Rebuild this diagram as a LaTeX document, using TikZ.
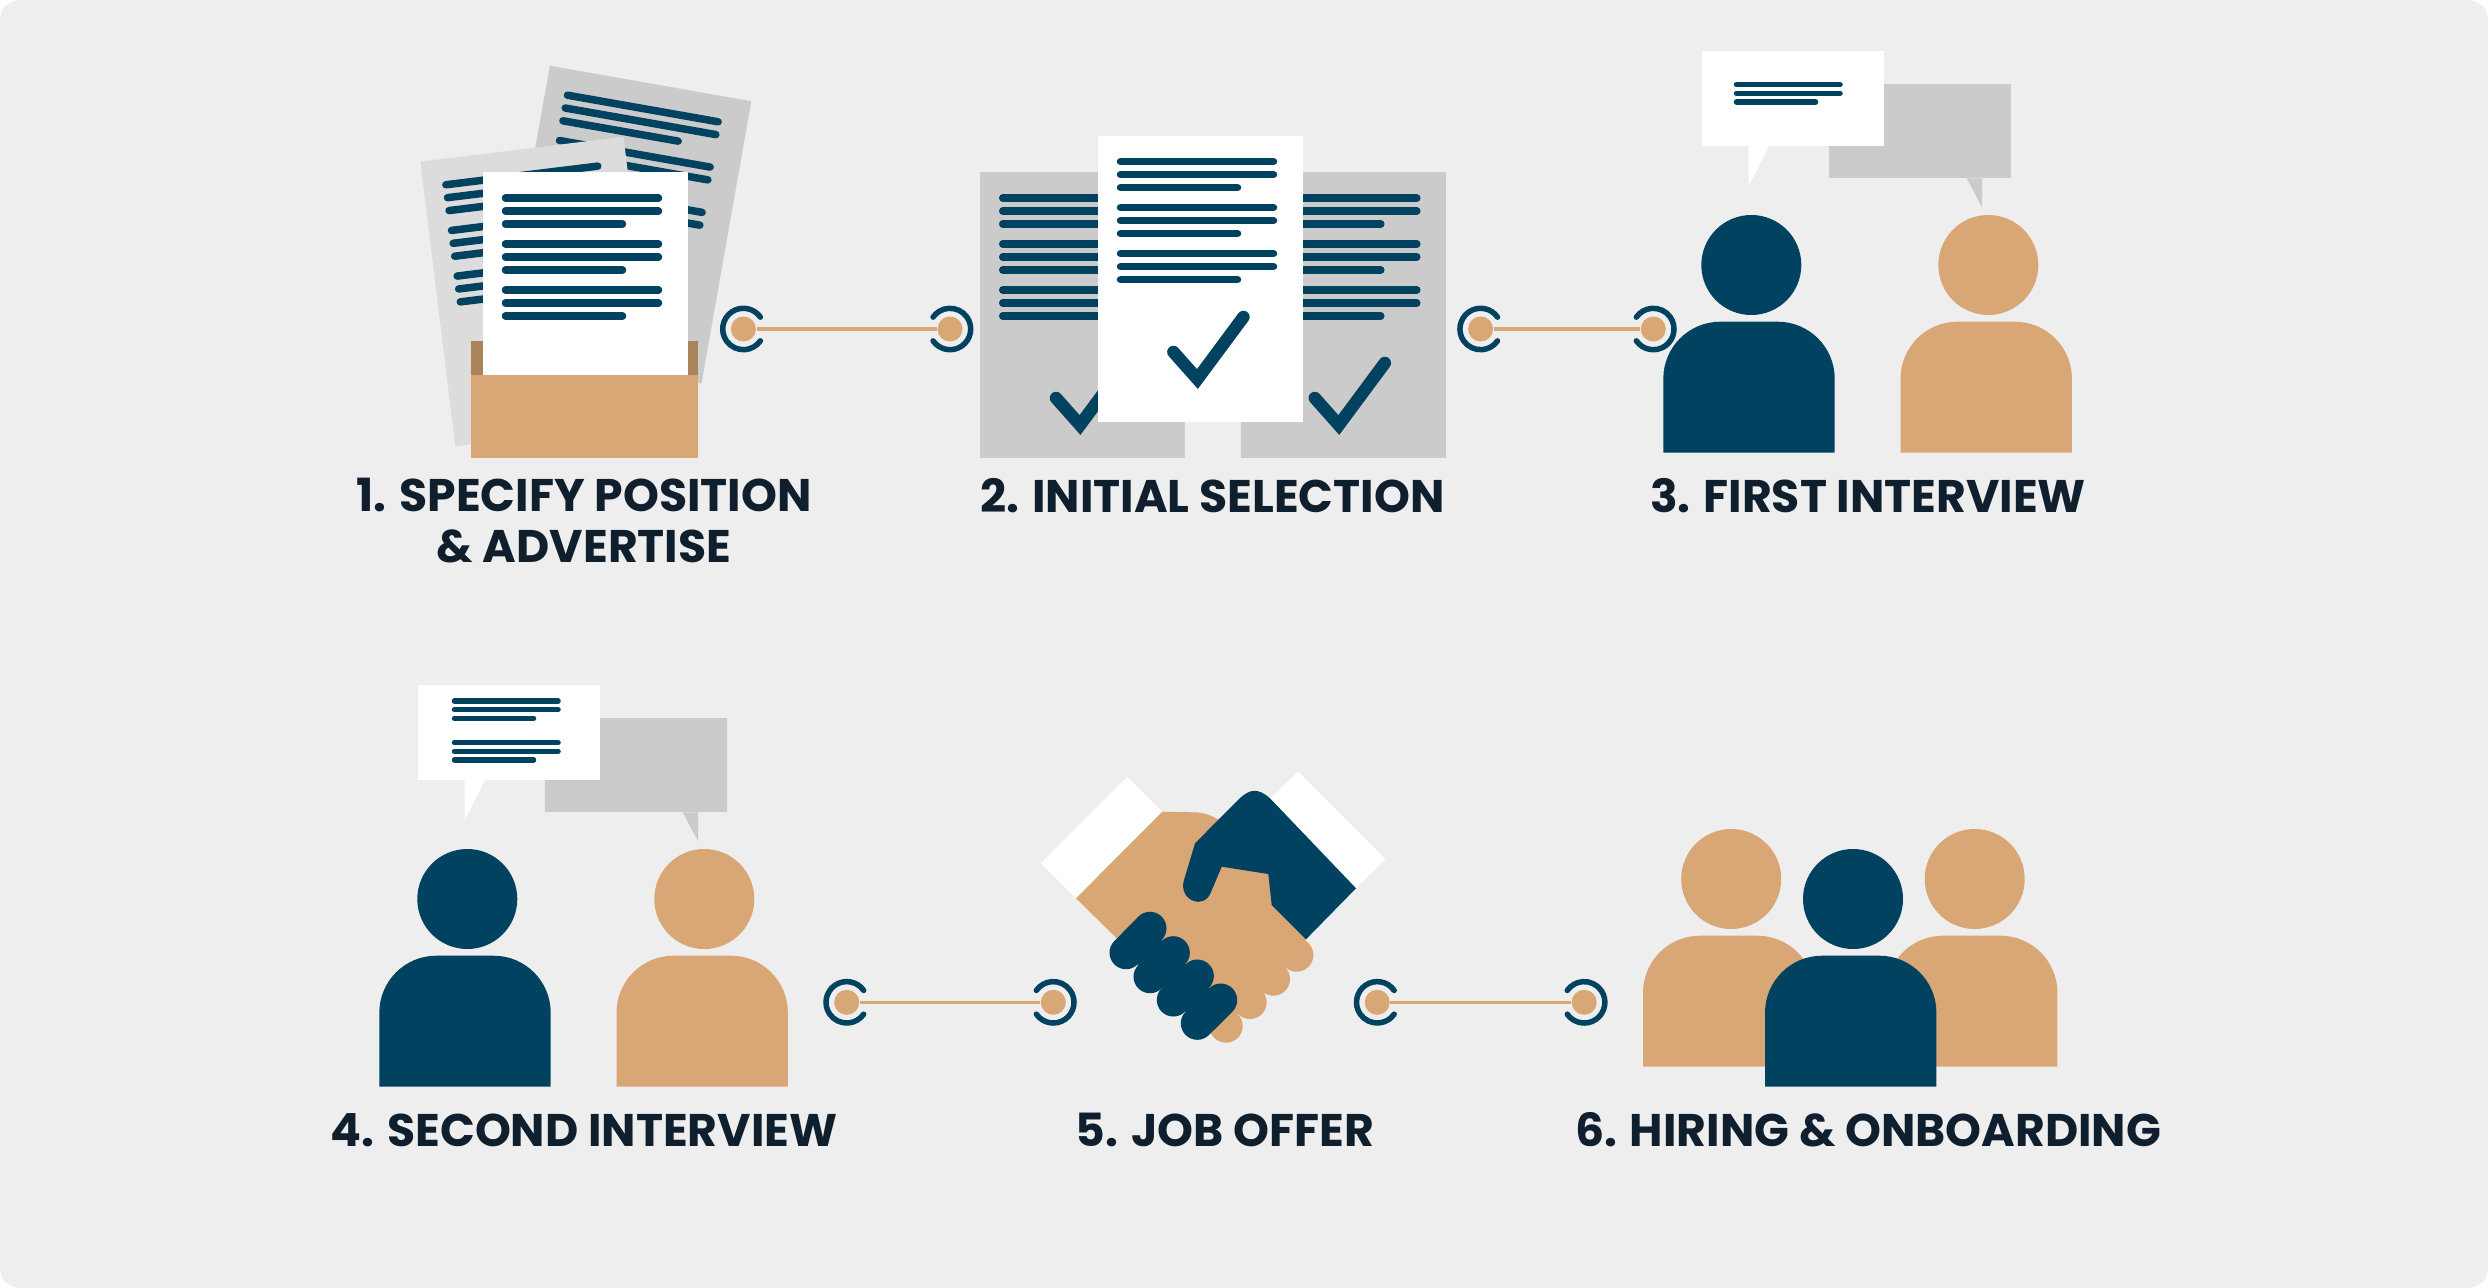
\documentclass[tikz,border=0pt]{standalone}
\usepackage{fontspec}
\setmainfont{Poppins}
\usepackage{tikz}
\usetikzlibrary{positioning}

\definecolor{pagebg}{HTML}{EEEEEE}
\definecolor{navy}{HTML}{00425F}
\definecolor{sand}{HTML}{D8A775}
\definecolor{sanddark}{HTML}{AB835A}
\definecolor{sheetgray}{HTML}{CBCBCB}
\definecolor{sheetlight}{HTML}{DCDCDC}
\definecolor{labelink}{HTML}{0F1F2E}

\tikzset{
    textline/.style={draw=navy, line width=0.075cm, line cap=round},
    smallline/.style={draw=navy, line width=0.055cm, line cap=round},
    checkline/.style={draw=navy, line width=0.125cm, line cap=round, miter limit=10},
    fingerline/.style={draw=navy, line width=0.33cm, line cap=round},
    ringline/.style={draw=navy, line width=0.055cm, line cap=round},
    linkline/.style={draw=sand, line width=0.035cm},
    dot/.style={circle, fill=sand, minimum size=0.25cm, inner sep=0pt},
    steplabel/.style={font=\fontsize{13}{14.5}\selectfont\bfseries, text=labelink, align=center, inner sep=0pt}
}

% nine lines of a sheet, #1 #2 is the top left corner of the sheet
\newcommand{\sheetlines}[2]{
    \begin{scope}[shift={(#1,#2)}]
        \draw [textline] (22.5,-26) -- (175.5,-26);
        \draw [textline] (22.5,-39) -- (175.5,-39);
        \draw [textline] (22.5,-52) -- (139.5,-52);
        \draw [textline] (22.5,-72) -- (175.5,-72);
        \draw [textline] (22.5,-85) -- (175.5,-85);
        \draw [textline] (22.5,-98) -- (139.5,-98);
        \draw [textline] (22.5,-118) -- (175.5,-118);
        \draw [textline] (22.5,-131) -- (175.5,-131);
        \draw [textline] (22.5,-144) -- (139.5,-144);
    \end{scope}
}
% head and body, #1 colour, #2 head x, #3 head y, #4 body left x
\newcommand{\person}[4]{
    \fill [#1] (#2,#3) circle (50);
    \fill [#1] (#4,#3-187.7) -- (#4,#3-113.7) arc (180:90:57) -- (#4+114.4,#3-56.7)
        arc (90:0:57) -- (#4+171.4,#3-187.7) -- cycle;
}
% ring open towards the link, #1 dot name, #2 start angle, #3 end angle
\newcommand{\linkring}[3]{
    \draw [ringline] (#1.center) ++(#2:20.7) arc (#2:#3:20.7);
}

\begin{document}
\begin{tikzpicture}[x=0.01cm, y=0.01cm]
    \useasboundingbox (0,0) rectangle (2488,-1288);
    \fill [white] (0,0) rectangle (2488,-1288);
    \fill [pagebg, rounded corners=0.2cm] (0,0) rectangle (2488,-1288);

    % step 1
    \begin{scope}[shift={(549.8,-65.7)}, rotate=-10]
        \fill [sheetgray] (0,0) rectangle (204.6,-286.6);
        \sheetlines{0}{0}
    \end{scope}
    \begin{scope}[shift={(420.4,-161.7)}, rotate=7]
        \fill [sheetlight] (0,0) rectangle (204.6,-286.6);
        \sheetlines{0}{0}
    \end{scope}
    \fill [sanddark] (471.4,-341) rectangle (698.4,-375);
    \fill [white] (483,-172) rectangle (687.6,-375);
    \sheetlines{483}{-172}
    \fill [sand] (471.4,-375) rectangle (698.4,-458.3);
    \node [dot] (linkAa) at (743.4,-329) {};
    \node [dot] (linkAb) at (950,-329) {};
    \draw [linkline] (linkAa) -- (linkAb);
    \linkring{linkAa}{35}{325}
    \linkring{linkAb}{-145}{145}
    \node [steplabel] (labelA) at (584,-521) {1. SPECIFY POSITION\\\& ADVERTISE};

    % step 2
    \fill [sheetgray] (980.2,-172) rectangle (1185.2,-458.3);
    \sheetlines{980.2}{-172}
    \draw [checkline] (1056,-398) -- (1080,-425) -- (1126,-363);
    \fill [sheetgray] (1241.3,-172) rectangle (1446.4,-458.3);
    \sheetlines{1241.3}{-172}
    \draw [checkline] (1314.8,-398) -- (1338.8,-425) -- (1384.8,-363);
    \fill [white] (1098,-135.7) rectangle (1302.6,-422.3);
    \sheetlines{1098}{-135.7}
    \draw [checkline] (1173.4,-352) -- (1197.4,-379) -- (1243.4,-317);
    \node [dot] (linkBa) at (1480.6,-329) {};
    \node [dot] (linkBb) at (1653.3,-329) {};
    \draw [linkline] (linkBa) -- (linkBb);
    \linkring{linkBa}{35}{325}
    \linkring{linkBb}{-145}{145}
    \node [steplabel] (labelB) at (1212.5,-496) {2. INITIAL SELECTION};

    % step 3
    \fill [sheetgray] (1828.7,-84) rectangle (2010.7,-178.3);
    \fill [sheetgray] (1966.7,-178.3) -- (1982,-178.3) -- (1982,-207.3) -- cycle;
    \fill [white] (1702,-51) rectangle (1884,-145.7);
    \fill [white] (1748.7,-145.7) -- (1769.3,-145.7) -- (1748.7,-186) -- cycle;
    \draw [smallline] (1736.5,-84.7) -- (1840,-84.7);
    \draw [smallline] (1736.5,-93.3) -- (1840,-93.3);
    \draw [smallline] (1736.5,-102) -- (1815.5,-102);
    \person{navy}{1751.3}{-265}{1663.3}
    \person{sand}{1988.3}{-265}{1900.5}
    \node [steplabel] (labelC) at (1868,-496) {3. FIRST INTERVIEW};

    % step 4
    \fill [sheetgray] (544.7,-718) rectangle (726.7,-812.3);
    \fill [sheetgray] (682.7,-812.3) -- (698,-812.3) -- (698,-841.3) -- cycle;
    \fill [white] (418,-685) rectangle (600,-779.7);
    \fill [white] (464.7,-779.7) -- (485.3,-779.7) -- (464.7,-820) -- cycle;
    \draw [smallline] (454.5,-701) -- (558,-701);
    \draw [smallline] (454.5,-709.7) -- (558,-709.7);
    \draw [smallline] (454.5,-718.3) -- (533.5,-718.3);
    \draw [smallline] (454.5,-742.7) -- (558,-742.7);
    \draw [smallline] (454.5,-751.3) -- (558,-751.3);
    \draw [smallline] (454.5,-760) -- (533.5,-760);
    \person{navy}{467.3}{-899}{379.3}
    \person{sand}{704.3}{-899}{616.5}
    \node [dot] (linkCa) at (846.7,-1002.3) {};
    \node [dot] (linkCb) at (1053.3,-1002.3) {};
    \draw [linkline] (linkCa) -- (linkCb);
    \linkring{linkCa}{35}{325}
    \linkring{linkCb}{-145}{145}
    \node [steplabel] (labelD) at (584,-1130) {4. SECOND INTERVIEW};

    % step 5
    \fill [white] (1127.3,-776.7) -- (1162.3,-811.7) -- (1076,-898.3) -- (1040.7,-863.3) -- cycle;
    \fill [white] (1298.3,-771.7) -- (1385.7,-859) -- (1356,-888.3) -- (1270,-798.3) -- cycle;
    \fill [sand] (1296.7,-955) circle (16.7);
    \fill [sand] (1273.3,-979) circle (16.7);
    \fill [sand] (1250,-1002.3) circle (16.7);
    \fill [sand] (1226,-1026) circle (16.7);
    \fill [sand] (1162.3,-811.7) -- (1193.3,-812.3) .. controls (1205,-812.3) and (1213,-816) .. (1222,-822)
        -- (1290,-850) -- (1290,-915) -- (1306,-939) -- (1296.7,-955) -- (1226,-1026) -- (1115,-936.7) -- (1076,-898.3) -- cycle;
    \fill [navy] (1271.7,-905) -- (1306,-939.3) -- (1356,-888.3) -- (1270,-798.3)
        .. controls (1258,-788) and (1250,-788) .. (1238,-800) -- (1195,-843.3) -- (1184,-880)
        .. controls (1178,-900) and (1204,-911) .. (1211,-892) -- (1221.7,-866.7) -- (1268.3,-874) -- cycle;
    \fill [navy] (1150,-928.3) -- (1220.7,-1000) -- (1197.3,-1023.3) -- (1126,-952.7) -- cycle;
    \draw [fingerline] (1150,-928.3) -- (1126,-952.7);
    \draw [fingerline] (1173.3,-952.7) -- (1150,-976.7);
    \draw [fingerline] (1197.3,-976) -- (1173.3,-1000);
    \draw [fingerline] (1220.7,-1000) -- (1197.3,-1023.3);
    \node [dot] (linkDa) at (1377.2,-1002.3) {};
    \node [dot] (linkDb) at (1584.2,-1002.3) {};
    \draw [linkline] (linkDa) -- (linkDb);
    \linkring{linkDa}{35}{325}
    \linkring{linkDb}{-145}{145}
    \node [steplabel] (labelE) at (1225,-1130) {5. JOB OFFER};

    % step 6
    \person{sand}{1731.2}{-879}{1643}
    \person{sand}{1974.7}{-879}{1886}
    \person{navy}{1853}{-899}{1765}
    \node [steplabel] (labelF) at (1868,-1130) {6. HIRING \& ONBOARDING};
\end{tikzpicture}
\end{document}
